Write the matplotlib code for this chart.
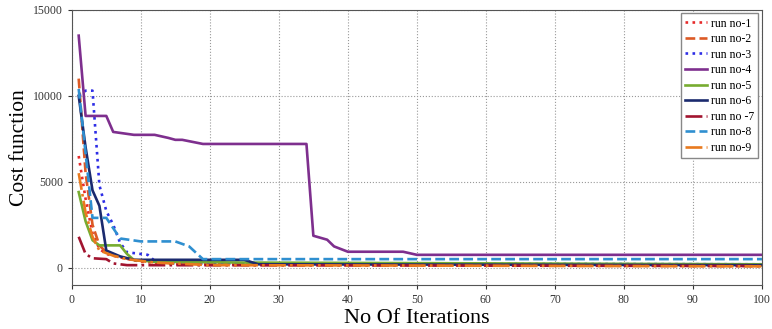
import matplotlib
matplotlib.use("Agg")
import matplotlib.pyplot as plt

plt.rcParams['font.family'] = ['Liberation Serif', 'DejaVu Serif']

labels = ["run no-1", "run no-2", "run no-3", "run no-4", "run no-5",
          "run no-6", "run no -7", "run no-8", "run no-9"]

run1_x = [1, 2, 3, 4, 5, 7, 10, 15, 100]
run1_y = [6500, 4000, 2000, 1100, 800, 600, 350, 200, 100]
run2_x = [1, 2, 3, 4, 5, 7, 10, 15, 100]
run2_y = [11000, 5500, 2500, 1300, 900, 600, 400, 250, 150]
run3_x = [1, 2, 3, 4, 5, 6, 7, 8, 11, 12, 15, 100]
run3_y = [10000, 10300, 10300, 4800, 3300, 2500, 1450, 900, 750, 400, 250, 200]
run4_x = [1, 2, 5, 6, 9, 12, 14, 15, 16, 19, 34, 35, 37, 38, 40, 48, 50, 100]
run4_y = [13500, 8830, 8830, 7900, 7730, 7730, 7550, 7440, 7440, 7200, 7200,
          1860, 1630, 1240, 930, 930, 750, 750]
run5_x = [1, 2, 3, 4, 7, 8, 9, 12, 25, 100]
run5_y = [4400, 2700, 1600, 1300, 1300, 800, 450, 350, 300, 200]
run6_x = [1, 2, 3, 4, 5, 7, 9, 25, 27, 100]
run6_y = [10000, 7000, 4500, 3600, 1000, 660, 460, 460, 200, 150]
run7_x = [1, 2, 3, 5, 6, 8, 100]
run7_y = [1800, 800, 550, 500, 250, 150, 100]
run8_x = [1, 3, 5, 7, 10, 15, 17, 19, 100]
run8_y = [10400, 2900, 2900, 1700, 1530, 1530, 1240, 500, 500]
run9_x = [1, 2, 3, 4, 6, 8, 12, 20, 100]
run9_y = [5500, 3200, 1800, 1000, 700, 500, 300, 150, 80]

xs = [run1_x, run2_x, run3_x, run4_x, run5_x, run6_x, run7_x, run8_x, run9_x]
ys = [run1_y, run2_y, run3_y, run4_y, run5_y, run6_y, run7_y, run8_y, run9_y]

colors = ['#E62A2A', '#DC5A25', '#2D2DE6', '#7E2F8E', '#77AC30',
          '#1B2A6E', '#A2142F', '#2F8FD0', '#E87A1E']
styles = [':', '--', ':', '-', '-', '-', '-.', '--', '-.']

fig = plt.figure(figsize=(7.72, 3.29), dpi=100)
ax = fig.add_axes([0.093, 0.134, 0.894, 0.836])

for x, y, c, s, l in zip(xs, ys, colors, styles, labels):
    ax.plot(x, y, color=c, linestyle=s, linewidth=1.9, label=l)

ax.set_xlim(0, 100)
ax.set_ylim(-1000, 15000)
ax.set_xticks(range(0, 101, 10))
ax.set_yticks([0, 5000, 10000, 15000])
ax.tick_params(labelsize=8.5, length=3, direction='out', colors='#333333')
ax.grid(True, linestyle=':', color='#999999', linewidth=0.8)
for sp in ax.spines.values():
    sp.set_color('#555555')
    sp.set_linewidth(0.8)

ax.set_xlabel("No Of Iterations", fontsize=16, labelpad=2)
ax.set_ylabel("Cost function", fontsize=15.5, labelpad=3)

leg = ax.legend(loc='upper right', fontsize=8.5, handlelength=1.9,
                handletextpad=0.3, labelspacing=0.3, borderpad=0.35,
                fancybox=False, framealpha=1, edgecolor='#888888',
                borderaxespad=0.3)

fig.savefig("out.png", dpi=100)
